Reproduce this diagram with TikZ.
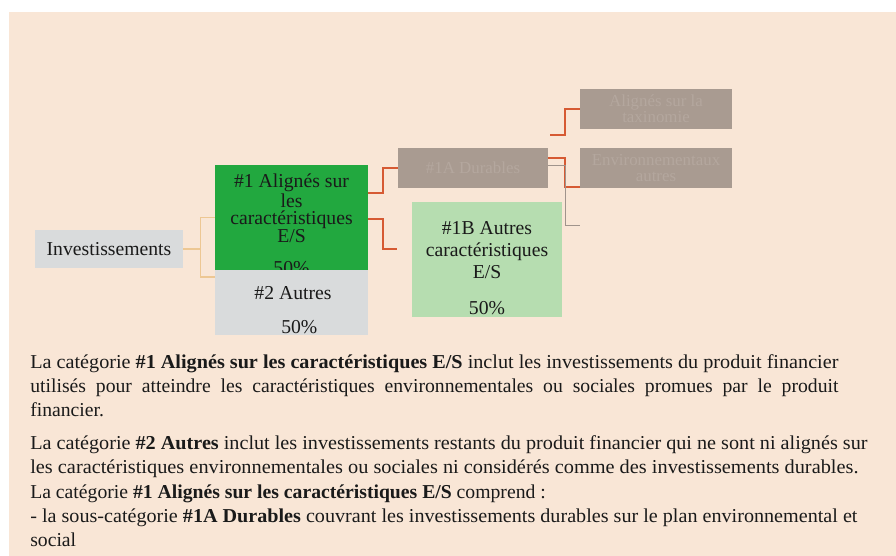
\documentclass[tikz,border=0pt]{standalone}
\usepackage{fontspec}
\setmainfont{Liberation Serif}
\usepackage{graphicx}

\definecolor{peach}{HTML}{F9E6D6}
\definecolor{boxgr}{HTML}{D9DBDC}
\definecolor{boxgn}{HTML}{22A83F}
\definecolor{boxpl}{HTML}{B6DDB0}
\definecolor{boxbl}{HTML}{A99B91}
\definecolor{txtbl}{HTML}{B4A79E}
\definecolor{tanc}{HTML}{EDC793}
\definecolor{redc}{HTML}{D65A33}
\definecolor{thinc}{HTML}{A0948C}
\definecolor{ink}{HTML}{1A1A1A}

\tikzset{
	boxgrey/.style={rectangle,fill=boxgr,inner sep=0pt,text=ink,align=center,font=\fontsize{14}{17}\selectfont},
	boxgreen/.style={rectangle,fill=boxgn,inner sep=0pt},
	boxpale/.style={rectangle,fill=boxpl,inner sep=0pt},
	boxblur/.style={rectangle,fill=boxbl,inner sep=0pt,text=txtbl,align=center,minimum height=1cm,font=\fontsize{12}{11.5}\selectfont},
	txt/.style={inner sep=0pt,text=ink,align=center,font=\fontsize{14}{17}\selectfont},
	para/.style={anchor=base west,inner sep=0pt,text=ink,font=\fontsize{14}{17}\selectfont},
	tanline/.style={draw=tanc,line width=1pt},
	redline/.style={draw=redc,line width=1.4pt},
	thinline/.style={draw=thinc,line width=0.6pt}
}

\begin{document}
\begin{tikzpicture}[x=0.025cm,y=-0.025cm]
%Hintergrund
\useasboundingbox (0,0) rectangle (896,556);
\fill[white] (0,0) rectangle (896,556);
\fill[peach] (9,12) rectangle (896,556);

%Kaesten
\node[boxgrey,minimum width=3.7cm,minimum height=0.95cm] (inv) at (109,249) {Investissements};
\node[boxgreen,minimum width=3.825cm,minimum height=2.625cm] (al) at (291.5,217.5) {};
\node[txt,font=\fontsize{14}{12.6}\selectfont] (alt) at (291.5,224.5) {\#1 Alignés sur\\les\\caractéristiques\\E/S\\[10.2pt]50\%};
\node[boxgrey,minimum width=3.825cm,minimum height=1.625cm] (au) at (291.5,302.5) {};
\node[txt] (aut) at (293,310) {\#2 Autres\\[7.2pt]\hspace{9pt}50\%};

\node[boxblur,minimum width=3.75cm] (d1A) at (473,168) {\#1A Durables};
\node[boxpale,minimum width=3.75cm,minimum height=2.875cm] (b1B) at (487,259.5) {};
\node[txt,font=\fontsize{14}{15.6}\selectfont] (bt) at (487,268) {\#1B Autres\\caractéristiques\\E/S\\[10pt]50\%};
\node[boxblur,minimum width=3.8cm] (tax) at (656,109) {Alignés sur la\\taxinomie};
\node[boxblur,minimum width=3.8cm] (env) at (656,168) {Environnementaux\\autres};

\coordinate (c1B) at (397,249);
\coordinate (cA) at (550,135);
\coordinate (cE) at (580,225);

%Verbindungen
\draw[tanline] (inv.east) -- ++(17,0) coordinate (tj) |- (al.west);
\draw[tanline] (tj) |- ([yshift=18.1pt]au.west);
\draw[redline] ([yshift=17.4pt]al.east) -- ++(15,0) |- (d1A.west);
\draw[redline] ([yshift=-1pt]al.east) -- ++(15,0) |- (c1B);
\draw[redline] (cA) -- ++(15,0) |- (tax.west);
\draw[redline] ([yshift=7pt]d1A.east) -- ++(17,0) |- ([yshift=-13.5pt]env.west);
\draw[thinline] ([yshift=2pt]d1A.east) -- ++(17,0) |- (cE);

%Text
\node[para] (p1) at (30,369) {\resizebox{20.2cm}{\height}{La catégorie \textbf{\#1 Alignés sur les caractéristiques E/S} inclut les investissements du produit financier}};
\node[para] (p2) at (30,393) {\makebox[20.2cm][s]{utilisés pour atteindre les caractéristiques environnementales ou sociales promues par le produit}};
\node[para] (p3) at (30,417) {financier.};
\node[para] (p4) at (30,450) {\resizebox{20.925cm}{\height}{La catégorie \textbf{\#2 Autres} inclut les investissements restants du produit financier qui ne sont ni alignés sur}};
\node[para] (p5) at (30,474) {\resizebox{20.7cm}{\height}{les caractéristiques environnementales ou sociales ni considérés comme des investissements durables.}};
\node[para] (p6) at (30,499) {La catégorie \textbf{\#1 Alignés sur les caractéristiques E/S} comprend :};
\node[para] (p7) at (30,523) {\resizebox{20.675cm}{\height}{- la sous-catégorie \textbf{\#1A Durables} couvrant les investissements durables sur le plan environnemental et}};
\node[para] (p8) at (30,547) {social};
\end{tikzpicture}
\end{document}
